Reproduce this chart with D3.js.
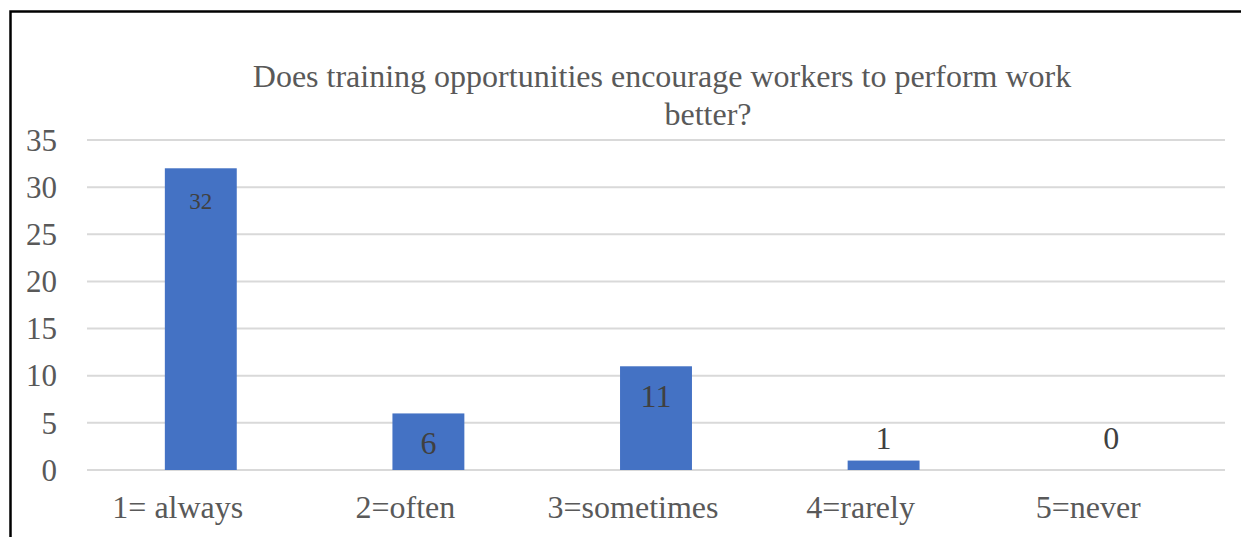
<!DOCTYPE html>
<html>
<head>
<meta charset="utf-8">
<script src="https://cdn.jsdelivr.net/npm/d3@7"></script>
<style>
  body { margin: 0; background: #fff; }
  svg text { font-family: "Liberation Serif", "Times New Roman", serif; }
</style>
</head>
<body>
<div id="chart"></div>
<script>
// Chart data
const categories = ["1= always", "2=often", "3=sometimes", "4=rarely", "5=never"];
const counts = [32, 6, 11, 1, 0];
const yTicks = [0, 5, 10, 15, 20, 25, 30, 35];
const titleLines = ["Does training opportunities encourage workers to perform work", "better?"];

const width = 1241, height = 537;
const margin = {top: 140, right: 16, bottom: 67, left: 87};

const svg = d3.select("#chart")
  .append("svg")
  .attr("width", width)
  .attr("height", height);

// outer frame (only left and top edges visible in the crop)
svg.append("path")
  .attr("d", `M10.5,${height} V11.5 H${width}`)
  .attr("fill", "none")
  .attr("stroke", "#000")
  .attr("stroke-width", 2.5);

const x = d3.scaleBand()
  .domain(categories)
  .range([margin.left, width - margin.right])
  .paddingInner(0.684)
  .paddingOuter(0.342);

const y = d3.scaleLinear()
  .domain([0, 35])
  .range([height - margin.bottom, margin.top]);

// gridlines
svg.append("g")
  .selectAll("line")
  .data(yTicks)
  .enter()
  .append("line")
  .attr("x1", margin.left)
  .attr("x2", width - margin.right)
  .attr("y1", d => y(d))
  .attr("y2", d => y(d))
  .attr("stroke", "#d9d9d9")
  .attr("stroke-width", 2);

// y axis labels
const yAxis = svg.append("g")
  .attr("transform", `translate(${margin.left - 30},0)`)
  .call(d3.axisLeft(y).tickValues(yTicks).tickSize(0).tickPadding(0));
yAxis.select(".domain").remove();
yAxis.selectAll("text")
  .attr("font-size", "31px")
  .attr("fill", "#595959")
  .attr("dy", "0.33em")
  .style("font-family", "'Liberation Serif', serif");

// bars
svg.selectAll("rect.bar")
  .data(counts)
  .enter()
  .append("rect")
  .attr("class", "bar")
  .attr("x", (d, i) => x(categories[i]))
  .attr("y", d => y(d))
  .attr("width", x.bandwidth())
  .attr("height", d => y(0) - y(d))
  .attr("fill", "#4472c4");

// data labels: inside end when the bar is tall enough, above otherwise
svg.selectAll("text.val")
  .data(counts)
  .enter()
  .append("text")
  .attr("class", "val")
  .attr("x", (d, i) => x(categories[i]) + x.bandwidth() / 2)
  .attr("y", d => d >= 5 ? y(d) + 41 : y(0) - 21)
  .attr("text-anchor", "middle")
  .attr("font-size", d => d > 20 ? "23px" : "32px")
  .attr("fill", "#404040")
  .text(d => d);

// x axis labels (sit a little left of the bar centres, as in the original)
const xAxis = svg.append("g")
  .attr("transform", `translate(-23,${y(0) + 48})`)
  .call(d3.axisBottom(x).tickSize(0).tickPadding(0));
xAxis.select(".domain").remove();
xAxis.selectAll("text")
  .attr("font-size", "32px")
  .attr("fill", "#595959")
  .attr("dy", "0")
  .style("font-family", "'Liberation Serif', serif");

// title
svg.append("text")
  .attr("x", 662)
  .attr("y", 87)
  .attr("text-anchor", "middle")
  .attr("font-size", "32px")
  .attr("fill", "#595959")
  .text(titleLines[0]);
svg.append("text")
  .attr("x", 708)
  .attr("y", 125)
  .attr("text-anchor", "middle")
  .attr("font-size", "32px")
  .attr("fill", "#595959")
  .text(titleLines[1]);
</script>
</body>
</html>
